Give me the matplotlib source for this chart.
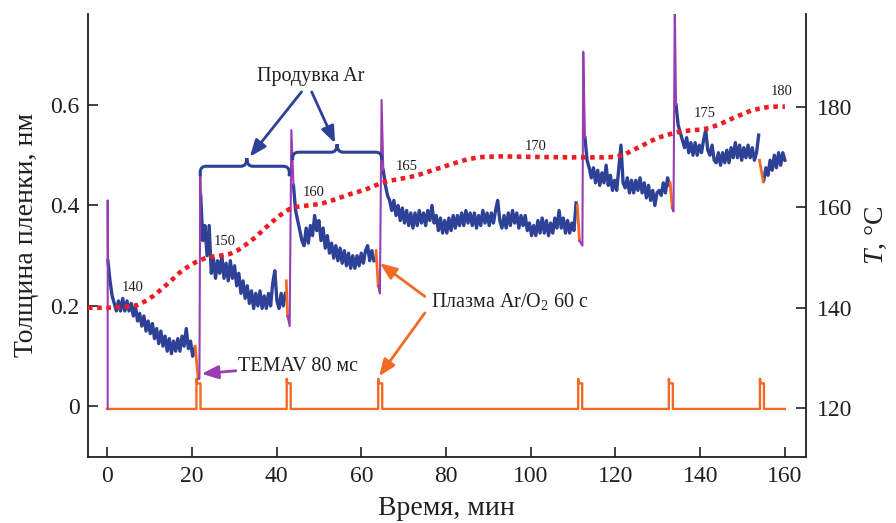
import numpy as np
import matplotlib.pyplot as plt
from matplotlib.path import Path
from matplotlib.patches import PathPatch

plt.rcParams['font.family'] = ['Liberation Serif', 'DejaVu Serif']
plt.rcParams['mathtext.fontset'] = 'custom'
plt.rcParams['mathtext.rm'] = 'Liberation Serif'
plt.rcParams['mathtext.it'] = 'Liberation Serif:italic'

BLUE = '#2d4196'
PURPLE = '#9a3db3'
ORANGE = '#f26a24'
RED = '#eb1e25'
INK = '#231f20'

# film thickness, nm -- read every 0.5 min, one list per stretch between pulses
seg_start = [0.2, 22.1, 44.0, 65.2, 112.8, 134.3, 155.0]
seg1 = [0.29, 0.25, 0.22, 0.205, 0.19, 0.21, 0.19, 0.215, 0.19, 0.21,
        0.19, 0.205, 0.18, 0.20, 0.17, 0.185, 0.16, 0.18, 0.15, 0.17,
        0.145, 0.165, 0.135, 0.155, 0.125, 0.15, 0.12, 0.14, 0.11, 0.135,
        0.105, 0.13, 0.11, 0.135, 0.11, 0.14, 0.12, 0.155, 0.115, 0.13,
        0.10, 0.115]
seg2 = [0.42, 0.33, 0.36, 0.30, 0.36, 0.265, 0.295, 0.255, 0.29, 0.265,
        0.30, 0.255, 0.285, 0.25, 0.29, 0.255, 0.28, 0.24, 0.265, 0.225,
        0.25, 0.215, 0.24, 0.205, 0.23, 0.195, 0.225, 0.20, 0.23, 0.195,
        0.22, 0.195, 0.225, 0.20, 0.245, 0.27, 0.21, 0.195, 0.225, 0.20,
        0.225]
seg3 = [0.44, 0.39, 0.37, 0.35, 0.33, 0.32, 0.355, 0.325, 0.36, 0.34,
        0.38, 0.35, 0.37, 0.33, 0.355, 0.315, 0.34, 0.305, 0.325, 0.295,
        0.32, 0.29, 0.315, 0.285, 0.31, 0.28, 0.305, 0.275, 0.30, 0.275,
        0.30, 0.28, 0.305, 0.285, 0.31, 0.32, 0.29, 0.31, 0.29]
seg4 = [0.47, 0.44, 0.42, 0.41, 0.39, 0.41, 0.38, 0.40, 0.37, 0.395,
        0.365, 0.39, 0.36, 0.385, 0.355, 0.385, 0.36, 0.39, 0.365, 0.385,
        0.36, 0.39, 0.37, 0.40, 0.365, 0.38, 0.35, 0.375, 0.345, 0.37,
        0.345, 0.375, 0.35, 0.38, 0.355, 0.38, 0.36, 0.385, 0.36, 0.39,
        0.365, 0.385, 0.36, 0.385, 0.355, 0.38, 0.36, 0.39, 0.365, 0.385,
        0.36, 0.385, 0.365, 0.39, 0.41, 0.37, 0.355, 0.38, 0.355, 0.385,
        0.36, 0.39, 0.365, 0.385, 0.355, 0.38, 0.36, 0.38, 0.35, 0.365,
        0.34, 0.36, 0.34, 0.37, 0.345, 0.375, 0.345, 0.37, 0.34, 0.365,
        0.345, 0.375, 0.355, 0.39, 0.355, 0.375, 0.345, 0.37, 0.345, 0.365,
        0.35, 0.405]
seg5 = [0.535, 0.49, 0.475, 0.455, 0.475, 0.445, 0.47, 0.44, 0.465, 0.445,
        0.48, 0.44, 0.46, 0.43, 0.45, 0.43, 0.475, 0.52, 0.445, 0.435,
        0.455, 0.425, 0.45, 0.425, 0.45, 0.43, 0.455, 0.425, 0.445, 0.415,
        0.44, 0.41, 0.43, 0.40, 0.425, 0.43, 0.42, 0.445, 0.425, 0.455,
        0.44]
seg6 = [0.60, 0.56, 0.545, 0.53, 0.515, 0.535, 0.505, 0.525, 0.50, 0.525,
        0.50, 0.52, 0.505, 0.53, 0.55, 0.51, 0.50, 0.52, 0.49, 0.485,
        0.505, 0.48, 0.505, 0.485, 0.51, 0.485, 0.515, 0.495, 0.525, 0.495,
        0.52, 0.49, 0.515, 0.495, 0.52, 0.495, 0.515, 0.49, 0.505, 0.54]
seg7 = [0.45, 0.475, 0.46, 0.49, 0.47, 0.50, 0.475, 0.505, 0.48, 0.505,
        0.49]
segments = [seg1, seg2, seg3, seg4, seg5, seg6, seg7]
step = 0.5

# thickness drop during Ar/O2 plasma (orange pieces)
drop_t0 = [20.8, 42.3, 63.5, 111.0, 132.9, 154.0]
drop_h0 = [0.12, 0.25, 0.31, 0.40, 0.445, 0.49]
drop_t1 = [21.5, 42.6, 64.0, 111.5, 133.4, 154.9]
drop_h1 = [0.055, 0.18, 0.24, 0.33, 0.395, 0.447]

# TEMAV pulse spikes (purple)
temav_dip_t = [21.8, 43.1, 64.4, 112.2, 133.7]
temav_dip_h = [0.055, 0.16, 0.225, 0.32, 0.388]
temav_top_t = [22.0, 43.5, 64.8, 112.4, 134.0]
temav_top_h = [0.46, 0.55, 0.61, 0.706, 0.80]
first_spike_h = 0.41

# plasma on/off trace
pulse_start = [21.1, 42.4, 64.0, 111.2, 132.6, 154.1]
pulse_width = 0.95
pulse_top = 0.046
pulse_peak = 0.055
trace_base = -0.005
trace_end = 160.0

# substrate temperature, deg C
temp_t = [-4.5, 0, 4, 7, 9, 11, 13, 15, 17, 19, 21, 23, 25, 27, 29, 31, 33,
          35, 37, 39, 41, 43, 45, 47, 49, 51, 53, 55, 57, 59, 61, 63, 65, 67,
          69, 71, 73, 75, 77, 79, 81, 83, 85, 87, 89, 93, 100, 110, 117, 120,
          122, 124, 126, 128, 130, 132, 134, 136, 138, 140, 142, 144, 146,
          148, 150, 152, 154, 156, 158, 160]
temp_c = [140, 140, 140.2, 140.5, 141.3, 142.4, 143.8, 145.3, 146.9, 148.1,
          149.1, 149.8, 150.2, 150.4, 150.7, 151.5, 152.7, 154.0, 155.6,
          157.1, 158.5, 159.6, 160.1, 160.3, 160.5, 160.8, 161.3, 161.9,
          162.5, 163.0, 163.5, 164.2, 164.9, 165.3, 165.6, 165.9, 166.3,
          166.8, 167.4, 167.9, 168.5, 169.0, 169.5, 169.8, 170.0, 170.1,
          170.0, 169.9, 169.9, 170.0, 170.4, 171.3, 172.1, 173.0, 173.8,
          174.3, 174.8, 175.1, 175.3, 175.4, 175.7, 176.3, 177.0, 177.8,
          178.5, 179.2, 179.6, 179.9, 180.0, 180.0]
temp_labels = ['140', '150', '160', '165', '170', '175', '180']
temp_label_t = [6.1, 27.8, 48.8, 70.7, 101.2, 141.1, 159.3]
temp_label_h = [0.236, 0.328, 0.425, 0.477, 0.517, 0.584, 0.627]

fig = plt.figure(figsize=(8.96, 5.23), dpi=100)
ax = fig.add_axes([0.0982, 0.1268, 0.801, 0.8464])
ax2 = ax.twinx()

# plasma trace
tr_x, tr_y = [0.0], [trace_base]
for s in pulse_start:
    tr_x += [s, s, s + 0.15, s + pulse_width, s + pulse_width]
    tr_y += [trace_base, pulse_peak, pulse_top, pulse_top, trace_base]
tr_x.append(trace_end)
tr_y.append(trace_base)
ax.plot(tr_x, tr_y, color=ORANGE, lw=1.7, zorder=2)

# thickness
for s, vals in zip(seg_start, segments):
    x = s + step * np.arange(len(vals))
    ax.plot(x, vals, color=BLUE, lw=2.4, zorder=3)

for i in range(len(drop_t0)):
    ax.plot([drop_t0[i], drop_t1[i]], [drop_h0[i], drop_h1[i]],
            color=ORANGE, lw=2.0, zorder=4)

ax.plot([seg_start[0] - 0.05, seg_start[0] - 0.05, seg_start[0]],
        [trace_base, first_spike_h, seg1[0]], color=PURPLE, lw=1.5, zorder=4)
for i in range(len(temav_dip_t)):
    nxt = segments[i + 1]
    ax.plot([drop_t1[i], temav_dip_t[i], temav_top_t[i], seg_start[i + 1]],
            [drop_h1[i], temav_dip_h[i], temav_top_h[i], nxt[0]],
            color=PURPLE, lw=1.5, zorder=4)

# temperature
ax2.plot(temp_t, temp_c, color=RED, lw=3.3, linestyle=(0, (1, 1.0)),
         dash_capstyle='butt')
for lab, t, h in zip(temp_labels, temp_label_t, temp_label_h):
    ax.text(t, h, lab, fontsize=10.5, ha='center', va='center', color=INK)


def brace(x0, x1, xc, y, yend, ypeak, rx=1.4, ry=0.012):
    verts = [(x0, yend), (x0, y - ry), (x0, y), (x0 + rx, y),
             (xc - rx, y), (xc, y), (xc, ypeak), (xc, y), (xc + rx, y),
             (x1 - rx, y), (x1, y), (x1, y - ry), (x1, yend)]
    codes = [Path.MOVETO, Path.LINETO, Path.CURVE3, Path.CURVE3,
             Path.LINETO, Path.CURVE3, Path.CURVE3, Path.CURVE3, Path.CURVE3,
             Path.LINETO, Path.CURVE3, Path.CURVE3, Path.LINETO]
    ax.add_patch(PathPatch(Path(verts, codes), fc='none', ec=BLUE, lw=2.2,
                           zorder=5))


brace(22.0, 43.0, 33.0, 0.478, 0.458, 0.494)
brace(43.8, 64.8, 54.3, 0.506, 0.49, 0.522)

ax.text(48.1, 0.657, 'Продувка Ar', fontsize=14.5, ha='center',
        va='center', color=INK)
arr = dict(arrowstyle='-|>,head_length=0.5,head_width=0.2', lw=2.0,
           mutation_scale=20, shrinkA=0, shrinkB=0)
ax.annotate('', xy=(33.7, 0.497), xytext=(45.9, 0.626),
            arrowprops=dict(arr, color=BLUE))
ax.annotate('', xy=(53.8, 0.524), xytext=(48.3, 0.626),
            arrowprops=dict(arr, color=BLUE))

ax.text(30.9, 0.0795, 'TEMAV 80 мс', fontsize=14.5, ha='left', va='center',
        color=INK)
ax.annotate('', xy=(22.3, 0.065), xytext=(30.4, 0.071),
            arrowprops=dict(arr, color=PURPLE))

ax.text(76.4, 0.209, 'Плазма Ar/O$_2$ 60 с', fontsize=14.5, ha='left',
        va='center', color=INK)
ax.annotate('', xy=(64.4, 0.285), xytext=(75.0, 0.219),
            arrowprops=dict(arr, color=ORANGE))
ax.annotate('', xy=(64.2, 0.060), xytext=(75.0, 0.186),
            arrowprops=dict(arr, color=ORANGE))

ax.set_xlim(-4.5, 164.9)
ax.set_ylim(-0.1, 0.781)
ax2.set_ylim(110.4, 198.4)
ax.set_xticks(range(0, 161, 20))
ax.set_yticks([0, 0.2, 0.4, 0.6])
ax.set_yticklabels(['0', '0.2', '0.4', '0.6'])
ax2.set_yticks([120, 140, 160, 180])

for a in (ax, ax2):
    a.spines['top'].set_visible(False)
    for sp in a.spines.values():
        sp.set_color(INK)
        sp.set_linewidth(1.3)
ax2.spines['left'].set_visible(False)
ax2.spines['bottom'].set_visible(False)
ax.spines['right'].set_visible(False)

ax.tick_params(direction='in', length=7, width=1.2, colors=INK, labelsize=17)
ax.tick_params(axis='y', pad=6)
ax.tick_params(axis='x', pad=7)
ax2.tick_params(direction='in', length=7, width=1.2, colors=INK,
                labelsize=17, pad=8)

ax.set_xlabel('Время, мин', fontsize=20, color=INK, labelpad=6)
ax.set_ylabel('Толщина пленки, нм', fontsize=20, color=INK, labelpad=8)
ax2.set_ylabel('$T$, °C', fontsize=20, color=INK, labelpad=8)

fig.savefig('out.png', dpi=100)
